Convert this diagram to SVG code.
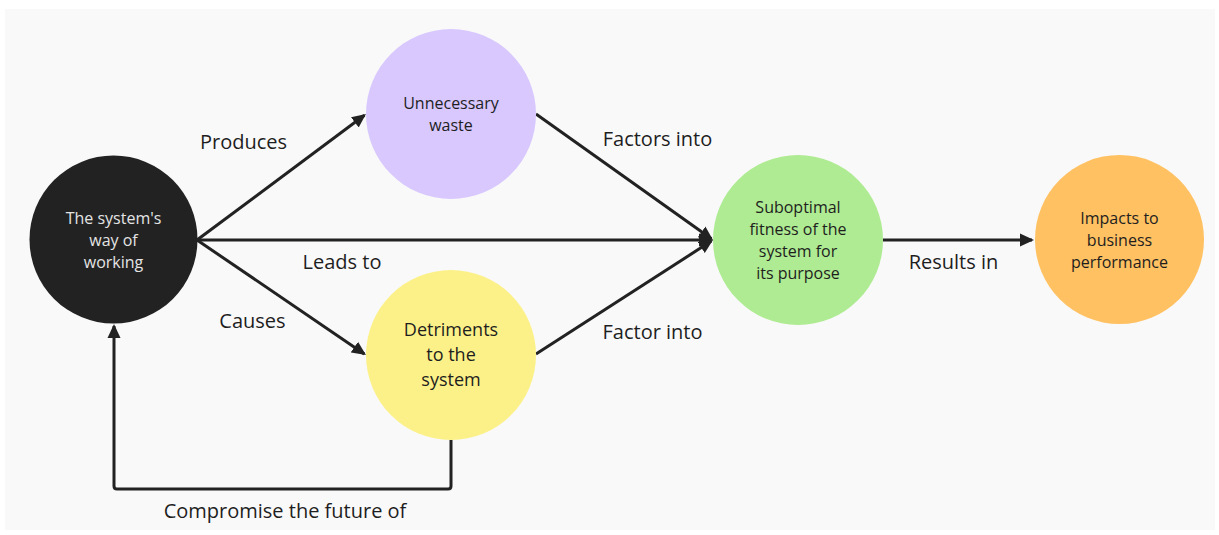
<svg xmlns="http://www.w3.org/2000/svg" width="1219" height="535" viewBox="0 0 1219 535">
  <style>
    .edge { fill: none; stroke: #222222; stroke-width: 3; stroke-linejoin: round; }
    .lbl { font-family: "Open Sans", "Liberation Sans", sans-serif; font-size: 20px; fill: #1e1e1e; text-anchor: middle; }
    .nt { font-family: "Open Sans", "Liberation Sans", sans-serif; font-size: 16px; fill: #1e1e1e; text-anchor: middle; }
    .nt-big { font-size: 18px; }
    .nt-light { fill: #e4e4e4; }
  </style>
  <defs>
    <marker id="arrow" viewBox="0 0 14 14" markerWidth="14" markerHeight="14" markerUnits="userSpaceOnUse" refX="12" refY="7" orient="auto">
      <path d="M0,0.5 L14,7 L0,13.5 z" fill="#222222"/>
    </marker>
  </defs>
  <rect x="5" y="9" width="1210" height="521" fill="#f9f9f9"/>

  <g id="connectors">
    <path class="edge" d="M197,240 L364.4,115.2" marker-end="url(#arrow)"/>
    <path class="edge" d="M197,240 L364.3,353.9" marker-end="url(#arrow)"/>
    <path class="edge" d="M197,240 L711,240" marker-end="url(#arrow)"/>
    <path class="edge" d="M536,114 L711.4,238.8" marker-end="url(#arrow)"/>
    <path class="edge" d="M536,354 L711.3,241.1" marker-end="url(#arrow)"/>
    <path class="edge" d="M883,240 L1032,240" marker-end="url(#arrow)"/>
    <path class="edge" d="M451,440 V486 Q451,489 448,489 H117 Q114,489 114,486 V326" marker-end="url(#arrow)"/>
    <text class="lbl" x="243.5" y="149">Produces</text>
    <text class="lbl" x="252.5" y="328">Causes</text>
    <text class="lbl" x="342" y="269">Leads to</text>
    <text class="lbl" x="657.5" y="146">Factors into</text>
    <text class="lbl" x="652.5" y="339">Factor into</text>
    <text class="lbl" x="953.5" y="269">Results in</text>
    <text class="lbl" x="285" y="518">Compromise the future of</text>
  </g>

  <g id="node-way-of-working">
    <circle cx="113.5" cy="239.5" r="84" fill="#222222"/>
    <text class="nt nt-light" x="113.5" y="224">The system's</text>
    <text class="nt nt-light" x="113.5" y="246">way of</text>
    <text class="nt nt-light" x="113.5" y="268">working</text>
  </g>

  <g id="node-waste">
    <circle cx="451" cy="114" r="85" fill="#d8c8fe"/>
    <text class="nt" x="451" y="109">Unnecessary</text>
    <text class="nt" x="451" y="131">waste</text>
  </g>

  <g id="node-detriments">
    <circle cx="451" cy="355" r="85" fill="#fcf188"/>
    <text class="nt nt-big" x="451" y="336">Detriments</text>
    <text class="nt nt-big" x="451" y="361">to the</text>
    <text class="nt nt-big" x="451" y="386">system</text>
  </g>

  <g id="node-suboptimal">
    <circle cx="798" cy="240" r="85" fill="#aeeb92"/>
    <text class="nt" x="798" y="213">Suboptimal</text>
    <text class="nt" x="798" y="235">fitness of the</text>
    <text class="nt" x="798" y="257">system for</text>
    <text class="nt" x="798" y="279">its purpose</text>
  </g>

  <g id="node-impacts">
    <circle cx="1119.5" cy="239.5" r="84.5" fill="#ffc162"/>
    <text class="nt" x="1119.5" y="224">Impacts to</text>
    <text class="nt" x="1119.5" y="246">business</text>
    <text class="nt" x="1119.5" y="268">performance</text>
  </g>
</svg>
